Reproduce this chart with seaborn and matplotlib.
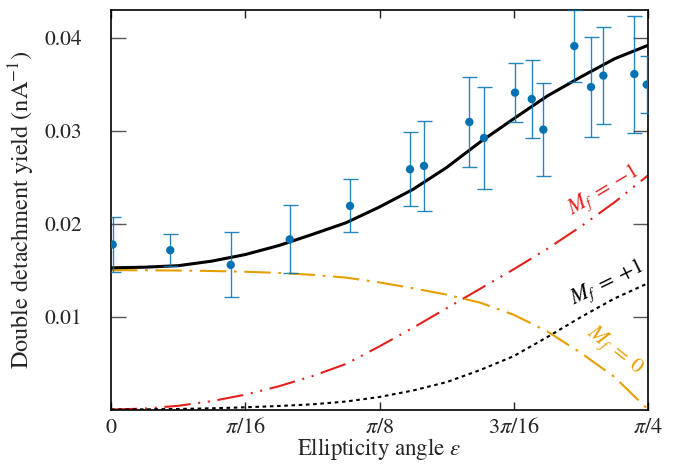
import numpy as np
import pandas as pd
import matplotlib
matplotlib.use("Agg")
import matplotlib.pyplot as plt
import seaborn as sns

# Model curves sampled every pi/64 in ellipticity angle
eps_grid = np.arange(17) * np.pi / 64
total = [0.01525, 0.01532, 0.01548, 0.01597, 0.01668, 0.01765, 0.01885, 0.02010,
         0.02180, 0.02370, 0.02605, 0.02880, 0.03130, 0.03375, 0.03580, 0.03775, 0.03920]
mf_zero = [0.01500, 0.01499, 0.01496, 0.01491, 0.01483, 0.01470, 0.01450, 0.01420,
           0.01368, 0.01305, 0.01237, 0.01150, 0.01020, 0.00840, 0.00610, 0.00350, 0.0]
mf_minus = [0.0, 0.0001, 0.0004, 0.0009, 0.0016, 0.0025, 0.0036, 0.0049,
            0.0068, 0.0088, 0.0109, 0.0130, 0.0151, 0.0173, 0.0197, 0.0223, 0.0252]
mf_plus = [0.0, 0.00002, 0.00006, 0.00013, 0.00024, 0.00038, 0.00056, 0.00086,
           0.00135, 0.00205, 0.00295, 0.00425, 0.00575, 0.00780, 0.00995, 0.01195, 0.01360]

# Measured yields with uncertainties
meas_eps = [0.0025, 0.0867, 0.1751, 0.2614, 0.3496, 0.4373, 0.4578, 0.5241, 0.5455,
            0.5909, 0.6153, 0.6323, 0.6776, 0.7020, 0.7201, 0.7654, 0.7835]
meas_yield = [0.01776, 0.01715, 0.01557, 0.01831, 0.02191, 0.02586, 0.02622, 0.03095,
              0.02923, 0.03411, 0.03342, 0.03013, 0.03912, 0.03471, 0.03594, 0.03611, 0.03497]
meas_err = [0.0030, 0.0017, 0.0035, 0.00365, 0.00285, 0.0040, 0.00484, 0.0048, 0.0055,
            0.0032, 0.0042, 0.0050, 0.0039, 0.0054, 0.0052, 0.0063, 0.0031]

x_ticks = [0, np.pi / 16, np.pi / 8, 3 * np.pi / 16, np.pi / 4]
x_ticklabels = ["0", r"$\pi/16$", r"$\pi/8$", r"$3\pi/16$", r"$\pi/4$"]
y_ticks = [0.01, 0.02, 0.03, 0.04]
y_ticklabels = ["0.01", "0.02", "0.03", "0.04"]

sns.set_theme(style="ticks")
plt.rcParams["font.family"] = ["STIXGeneral", "DejaVu Serif"]
plt.rcParams["mathtext.fontset"] = "stix"

curves = pd.DataFrame({
    "eps": np.tile(eps_grid, 4),
    "yield": total + mf_zero + mf_minus + mf_plus,
    "part": ["total"] * 17 + ["m0"] * 17 + ["mm1"] * 17 + ["mp1"] * 17,
})

fig = plt.figure(figsize=(6.78, 4.66), dpi=100)
ax = fig.add_axes([0.1637, 0.1212, 0.7921, 0.8573])

blue = "#0072B2"
red = "#E3211C"
orange = "#E69F00"


def dash_pattern(points, width):
    # matplotlib scales dash lengths by the line width
    return [p / width for p in points]


lw = 1.5
sns.lineplot(data=curves[curves.part == "mm1"], x="eps", y="yield", ax=ax,
             color=red, lw=lw, legend=False)
ax.lines[-1].set_dashes(dash_pattern([19, 5.5, 1.5, 5.5, 1.5, 5.5], lw))
sns.lineplot(data=curves[curves.part == "mp1"], x="eps", y="yield", ax=ax,
             color="black", lw=lw, legend=False)
ax.lines[-1].set_dashes(dash_pattern([2.6, 2.6], lw))
sns.lineplot(data=curves[curves.part == "m0"], x="eps", y="yield", ax=ax,
             color=orange, lw=lw, legend=False)
ax.lines[-1].set_dashes(dash_pattern([19, 5.5, 2, 5.5], lw))
sns.lineplot(data=curves[curves.part == "total"], x="eps", y="yield", ax=ax,
             color="black", lw=2.2, legend=False)

ax.errorbar(meas_eps, meas_yield, yerr=meas_err, fmt="none", ecolor=blue,
            elinewidth=1.0, capsize=5.4, capthick=1.0, alpha=0.85, zorder=4)
sns.scatterplot(x=meas_eps, y=meas_yield, ax=ax, color=blue, s=36,
                edgecolor="none", zorder=5, legend=False)

ax.text(0.7210, 0.02350, r"$M_f\:=\:-1$", color=red, fontsize=16,
        rotation=31, ha="center", va="center")
ax.text(0.7255, 0.01355, r"$M_f\:=\:+1$", color="black", fontsize=16,
        rotation=26, ha="center", va="center")
ax.text(0.7355, 0.00640, r"$M_f\:=\:0$", color=orange, fontsize=16,
        rotation=-38, ha="center", va="center")

ax.set_xlim(0, np.pi / 4)
ax.set_ylim(0, 0.043)
ax.set_xticks(x_ticks)
ax.set_xticklabels(x_ticklabels)
ax.set_yticks(y_ticks)
ax.set_yticklabels(y_ticklabels)
ax.tick_params(axis="x", direction="in", length=6, width=1.0, top=True,
               labelsize=16, pad=6, color="#222222")
ax.tick_params(axis="y", direction="in", length=11, width=1.0, right=True,
               labelsize=15.5, pad=21, color="#555555")
for s in ax.spines.values():
    s.set_linewidth(1.2)
    s.set_color("black")

ax.set_xlabel(r"Ellipticity angle $\varepsilon$", fontsize=16.5, labelpad=-1)
ax.set_ylabel(r"Double detachment yield (nA$^{-1}$)", fontsize=17.5, labelpad=5)

fig.savefig("out.png", dpi=100)
